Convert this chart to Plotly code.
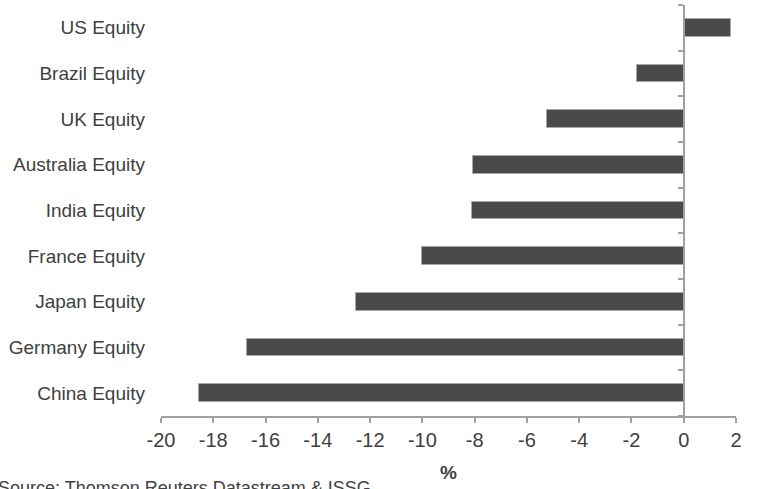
import plotly.graph_objects as go

categories = ["China Equity", "Germany Equity", "Japan Equity", "France Equity",
              "India Equity", "Australia Equity", "UK Equity", "Brazil Equity", "US Equity"]
values = [-18.55, -16.7, -12.55, -10.0, -8.1, -8.05, -5.25, -1.8, 1.8]
x_ticks = [-20, -18, -16, -14, -12, -10, -8, -6, -4, -2, 0, 2]
x_title = "%"
source_text = "Source: Thomson Reuters Datastream & ISSG"

FONT = "Liberation Sans, Arial, sans-serif"
TXT = "#404040"
AX = "#a0a0a0"

W, H = 757, 489
ml, mr, mt, mb = 161, 21, 5, 73
pw = W - ml - mr
ph = H - mt - mb

fig = go.Figure()
fig.add_trace(go.Bar(
    y=list(range(len(categories))), x=values, orientation="h",
    width=0.38,
    marker=dict(color="#4a4a4a", line=dict(color="#a8a8a8", width=1)),
    showlegend=False, hoverinfo="skip",
))
# invisible trace to activate the zero-position axis with boundary ticks
fig.add_trace(go.Scatter(x=[None], y=[None], yaxis="y2", showlegend=False, hoverinfo="skip"))

n = len(categories)
zero_pos = (0 - x_ticks[0]) / (x_ticks[-1] - x_ticks[0])

fig.update_layout(
    width=W, height=H,
    margin=dict(l=ml, r=mr, t=mt, b=mb),
    plot_bgcolor="white", paper_bgcolor="white",
    font=dict(family=FONT, color=TXT, size=19),
    bargap=0,
    hovermode=False,
    xaxis=dict(
        range=[x_ticks[0], x_ticks[-1]], tickvals=x_ticks,
        ticktext=[str(t) for t in x_ticks],
        showgrid=False, zeroline=False,
        showline=True, linecolor=AX, linewidth=2,
        ticks="outside", ticklen=5, tickcolor=AX, tickwidth=2,
        tickfont=dict(size=20, color=TXT, family=FONT),
        title=dict(text="<b>" + x_title + "</b>", font=dict(size=19, color=TXT, family=FONT), standoff=16),
    ),
    yaxis=dict(
        range=[-0.5, n - 0.5], tickvals=list(range(n)), ticktext=categories,
        showgrid=False, zeroline=False, showline=False, ticks="",
        tickfont=dict(size=19, color=TXT, family=FONT),
        ticklabelstandoff=15,
    ),
    yaxis2=dict(
        overlaying="y", anchor="free", position=zero_pos, side="left",
        range=[-0.5, n - 0.5], tickvals=[i - 0.5 for i in range(n + 1)],
        showticklabels=False, showgrid=False, zeroline=False,
        showline=True, linecolor=AX, linewidth=2,
        ticks="outside", ticklen=5, tickcolor=AX, tickwidth=2,
    ),
    annotations=[dict(
        text=source_text, xref="paper", yref="paper",
        x=(-4 - ml) / pw, y=-(476 - (mt + ph)) / ph,
        xanchor="left", yanchor="top", showarrow=False,
        font=dict(size=18, color=TXT, family=FONT),
    )],
)

fig.write_html("out.html", config={"displayModeBar": False},
               post_script="document.body.style.margin='0';")
